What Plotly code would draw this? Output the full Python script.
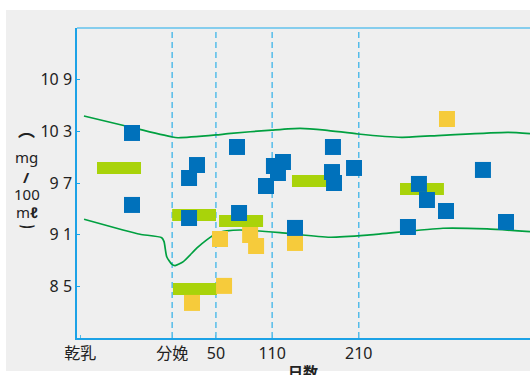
import plotly.graph_objects as go

# ---- data ----
tick_pos = [-103, 0, 49, 112, 209]
tick_text = ["乾乳", "分娩", "50", "110", "210"]
dash_pos = [0, 49, 112, 209]

y_tick_vals = [8.5, 9.1, 9.7, 10.3, 10.9]
y_tick_text = ["8 5", "9 1", "9 7", "10 3", "10 9"]

upper_x = [-98.8, -53.2, -1.3, 6.5, 49.1, 62.5, 111.5, 143.2, 171.2, 208.2, 257.1, 301.9, 376.1, 400.8]
upper_y = [10.475, 10.363, 10.236, 10.224, 10.256, 10.271, 10.313, 10.333, 10.313, 10.267, 10.229, 10.252, 10.287, 10.271]

lower_x = [-98.7, -55.1, -36.0, -11.7, -9.1, -6.1, -0.5, 3.2, 12.5, 27.5, 38.7, 49.9, 61.1, 76.0, 120.8, 176.8, 221.6, 303.3, 352.6, 400.8]
lower_y = [9.280, 9.156, 9.107, 9.067, 9.021, 8.847, 8.760, 8.743, 8.790, 8.945, 9.041, 9.118, 9.145, 9.156, 9.125, 9.072, 9.099, 9.176, 9.168, 9.137]

bar_start = [-84.2, 0.0, 52.5, 0.9, 134.2, 255.2]
bar_end = [-34.9, 49.1, 101.8, 50.2, 183.5, 304.4]
bar_val = [9.874, 9.330, 9.261, 8.474, 9.723, 9.631]

blue_x = [-45.0, -45.0, 27.8, 18.9, 18.9, 72.6, 74.9, 105.1, 114.0, 118.5, 124.1, 137.6,
          180.1, 179.0, 181.3, 203.7, 264.1, 276.4, 285.4, 306.7, 348.1, 373.9]
blue_y = [10.279, 9.446, 9.908, 9.758, 9.295, 10.117, 9.353, 9.665, 9.897, 9.816, 9.943, 9.180,
          10.117, 9.827, 9.700, 9.874, 9.191, 9.689, 9.503, 9.376, 9.851, 9.249]

yellow_x = [22.2, 53.6, 58.1, 87.3, 94.0, 137.6, 307.8]
yellow_y = [8.312, 9.052, 8.509, 9.098, 8.971, 9.006, 10.441]

FONT = "Noto Sans, Noto Sans CJK JP, sans-serif"
AXIS_BLUE = "#1ca2e6"
DASH_BLUE = "#55bce9"
TXT = "#222222"

fig = go.Figure()

fig.add_trace(go.Scatter(x=upper_x, y=upper_y, mode="lines",
                         line=dict(color="#00a040", width=1.7, shape="spline", smoothing=0.6),
                         hoverinfo="skip", showlegend=False))
fig.add_trace(go.Scatter(x=lower_x, y=lower_y, mode="lines",
                         line=dict(color="#00a040", width=1.7, shape="spline", smoothing=0.6),
                         hoverinfo="skip", showlegend=False))

fig.add_trace(go.Bar(orientation="h", base=bar_start,
                     x=[e - s for s, e in zip(bar_start, bar_end)],
                     y=bar_val, width=0.139,
                     marker=dict(color="#a9d30a", line=dict(width=0)),
                     showlegend=False))

fig.add_trace(go.Scatter(x=yellow_x, y=yellow_y, mode="markers",
                         marker=dict(symbol="square", size=16, color="#f6cb3b", line=dict(width=0)),
                         showlegend=False))
fig.add_trace(go.Scatter(x=blue_x, y=blue_y, mode="markers",
                         marker=dict(symbol="square", size=16, color="#0071bb", line=dict(width=0)),
                         showlegend=False))

shapes = [
    dict(type="rect", xref="paper", yref="paper", x0=-0.1567, x1=1.05, y0=-0.1065, y1=1.058,
         fillcolor="#efefef", line=dict(width=0), layer="below"),
]
for p in dash_pos:
    shapes.append(dict(type="line", xref="x", yref="paper", x0=p, x1=p, y0=0, y1=1,
                       line=dict(color=DASH_BLUE, width=1.5, dash="6px,4px"), layer="below"))
shapes.append(dict(type="line", xref="paper", yref="paper", x0=0, x1=1, y0=1, y1=1,
                   line=dict(color="#62c2ec", width=1.5), layer="above"))

XT = -0.1104
title_parts = [
    ("<b>⌒</b>", 0.632, "DejaVu Sans, Noto Sans CJK JP", 17),
    ("mg", 0.584, FONT, 15),
    ("<b>/</b>", 0.519, FONT, 15),
    ("100", 0.465, FONT, 15),
    ("m<b>ℓ</b>", 0.406, FONT, 15),
    ("<b>‿</b>", 0.388, "DejaVu Sans, Noto Sans", 17),
]
annotations = [
    dict(text=t, xref="paper", yref="paper", x=XT, y=yy, showarrow=False,
         xanchor="center", yanchor="middle",
         font=dict(size=sz, family=fam, color=TXT))
    for t, yy, fam, sz in title_parts
]
annotations.append(dict(text="<b>日数</b>", xref="paper", yref="paper", x=0.499, y=-0.11,
                        showarrow=False, xanchor="center", yanchor="middle",
                        font=dict(size=15, family=FONT, color=TXT)))

fig.update_layout(
    width=530, height=375,
    margin=dict(l=77, r=0, t=28, b=37),
    paper_bgcolor="white", plot_bgcolor="#efefef",
    barmode="overlay",
    font=dict(family=FONT, size=16, color=TXT),
    shapes=shapes,
    xaxis=dict(range=[-106.6, 400.8], tickvals=tick_pos, ticktext=tick_text,
               showgrid=False, zeroline=False, showline=True, linecolor=AXIS_BLUE, linewidth=1.5,
               ticks="inside", ticklen=3, tickcolor=DASH_BLUE, tickfont=dict(size=16)),
    yaxis=dict(range=[7.906, 11.494], tickvals=y_tick_vals, ticktext=y_tick_text,
               showgrid=False, zeroline=False, showline=True, linecolor=AXIS_BLUE, linewidth=1.5,
               ticks="inside", ticklen=3, tickcolor=AXIS_BLUE, tickfont=dict(size=16)),
    annotations=annotations,
)

fig.write_html("out.html")
